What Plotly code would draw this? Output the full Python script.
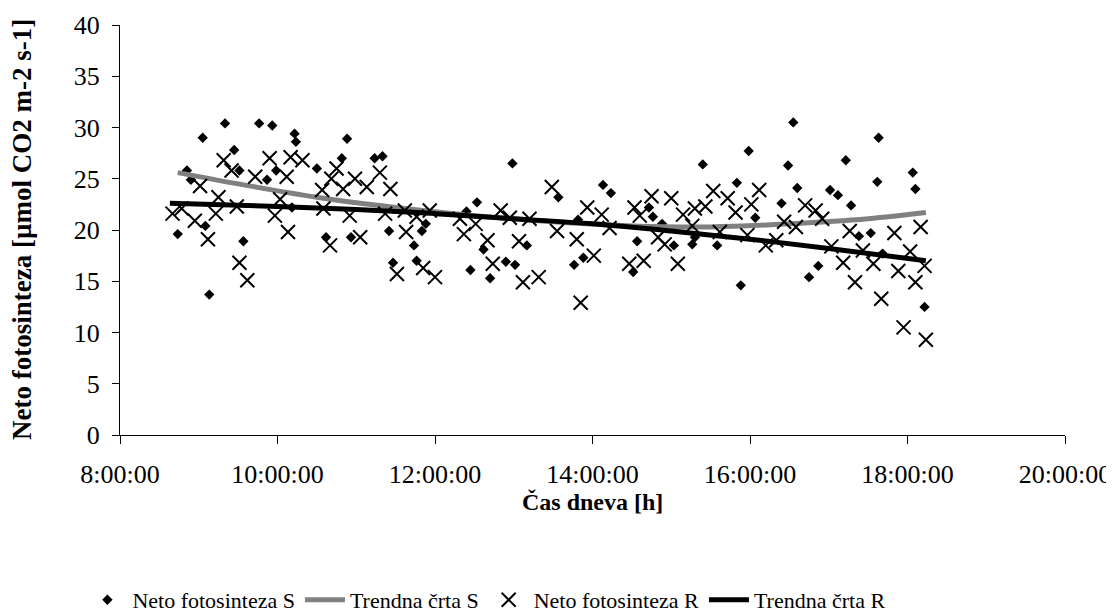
import plotly.graph_objects as go

DAY = "2000-01-01 "

# Neto fotosinteza S (diamonds)
s_time = ["8:44","8:51","8:54","9:03","9:05","9:08","9:20","9:27","9:31","9:34",
          "9:46","9:52","9:56","9:59","10:11","10:13","10:14","10:30","10:37","10:49",
          "10:53","10:56","11:14","11:20","11:25","11:28","11:44","11:46","11:50","11:53",
          "12:24","12:27","12:32","12:37","12:42","12:54","12:59","13:01","13:10","13:34",
          "13:46","13:49","13:53","14:08","14:14","14:31","14:34","14:43","14:46","14:53",
          "15:02","15:16","15:18","15:24","15:35","15:50","15:53","15:59","16:04","16:24",
          "16:29","16:33","16:36","16:45","16:52","17:01","17:07","17:13","17:17","17:23",
          "17:32","17:37","17:38","17:41","18:04","18:06","18:13"]
s_value = [19.6,25.8,24.9,29.0,20.4,13.7,30.4,27.8,25.8,18.9,
           30.4,24.9,30.2,25.8,22.2,29.4,28.6,26.0,19.3,27.0,
           28.9,19.3,27.0,27.2,19.9,16.8,18.5,17.0,19.9,20.6,
           21.8,16.1,22.7,18.1,15.3,16.9,26.5,16.6,18.5,23.2,
           16.6,21.0,17.3,24.4,23.6,15.9,18.9,22.2,21.3,20.6,
           18.5,18.6,19.3,26.4,18.5,24.6,14.6,27.7,21.2,22.6,
           26.3,30.5,24.1,15.4,16.5,23.9,23.4,26.8,22.4,19.4,
           19.7,24.7,29.0,17.7,25.6,24.0,12.5]

# Neto fotosinteza R (crosses)
r_time = ["8:40","8:47","8:57","9:01","9:07","9:13","9:15","9:19","9:25","9:29",
          "9:31","9:37","9:43","9:54","9:58","10:02","10:07","10:08","10:10","10:19",
          "10:34","10:35","10:40","10:41","10:45","10:50","10:55","10:59","11:03","11:08",
          "11:18","11:22","11:26","11:31","11:37","11:38","11:46","11:51","11:56","12:00",
          "12:19","12:22","12:31","12:40","12:44","12:50","12:57","13:04","13:07","13:12",
          "13:19","13:29","13:33","13:48","13:51","13:56","14:01","14:07","14:13","14:28",
          "14:32","14:36","14:39","14:45","14:50","14:55","15:00","15:05","15:09","15:16",
          "15:18","15:26","15:32","15:37","15:43","15:49","15:58","16:01","16:07","16:12",
          "16:20","16:26","16:35","16:42","16:50","16:55","17:02","17:11","17:16","17:20",
          "17:26","17:34","17:40","17:50","17:53","17:57","18:02","18:06","18:10","18:13",
          "18:14"]
r_value = [21.6,22.1,20.9,24.3,19.1,21.6,23.2,26.8,25.8,22.3,
           16.8,15.1,25.2,27.0,21.4,23.0,25.2,19.8,27.1,26.8,
           23.9,22.1,18.5,25.0,26.0,24.0,21.4,25.0,19.3,24.2,
           25.6,21.6,24.0,15.7,21.9,19.8,21.3,16.3,21.9,15.4,
           21.1,19.6,20.6,19.0,16.7,21.9,21.2,18.9,14.9,21.1,
           15.4,24.2,19.9,19.1,12.9,22.2,17.5,21.5,20.2,16.7,
           22.2,21.4,17.0,23.3,19.3,18.6,23.1,16.7,21.5,20.4,
           22.1,22.3,23.8,19.8,23.1,21.7,19.5,22.5,23.9,18.5,
           19.0,20.8,20.3,22.4,21.9,21.1,18.4,16.8,19.9,14.9,
           18.0,16.7,13.3,19.7,16.0,10.5,17.9,14.9,20.3,16.5,
           9.3]

# Trend lines
trend_s_time = ["8:44","9:30","10:30","11:30","12:30","13:30","14:30","15:30","16:30","17:30","18:14"]
trend_s_value = [25.6,24.5,23.2,22.2,21.4,20.8,20.4,20.3,20.6,21.1,21.7]
trend_r_time = ["8:38","10:00","11:00","12:00","13:00","14:00","15:00","16:00","17:00","18:14"]
trend_r_value = [22.6,22.3,22.0,21.6,21.1,20.6,19.9,19.1,18.2,17.0]

x_ticks = ["08:00","10:00","12:00","14:00","16:00","18:00","20:00"]

x_title = "Čas dneva [h]"
y_title = "Neto fotosinteza [µmol CO2 m-2 s-1]"


def dt(lst):
    out = []
    for t in lst:
        h, m = t.split(":")
        out.append(f"{DAY}{int(h):02d}:{m}:00")
    return out


FONT = "Liberation Serif, Times New Roman, serif"

# the page body has an 8px default margin, so the figure is laid out 8px smaller
W, H = 1106, 604

fig = go.Figure()
fig.add_trace(go.Scatter(
    x=dt(s_time), y=s_value, mode="markers", name="Neto fotosinteza S",
    marker=dict(symbol="diamond", size=8, color="black"),
))
fig.add_trace(go.Scatter(
    x=dt(trend_s_time), y=trend_s_value, mode="lines", name="Trendna črta S",
    line=dict(color="#808080", width=5, shape="spline"),
))
fig.add_trace(go.Scatter(
    x=dt(r_time), y=r_value, mode="markers", name="Neto fotosinteza R",
    marker=dict(symbol="x-thin-open", size=14, color="black",
                line=dict(color="black", width=2)),
))
fig.add_trace(go.Scatter(
    x=dt(trend_r_time), y=trend_r_value, mode="lines", name="Trendna črta R",
    line=dict(color="black", width=5, shape="spline"),
))

fig.update_layout(
    width=W, height=H,
    margin=dict(l=112, r=49, t=17, b=177, autoexpand=False),
    paper_bgcolor="white", plot_bgcolor="white",
    font=dict(family=FONT, color="black", size=22),
    showlegend=True,
    legend=dict(orientation="h", xref="container", yref="container",
                x=0.433, xanchor="center", y=1 - 592 / H, yanchor="middle",
                font=dict(family=FONT, size=22, color="black"),
                itemwidth=40, tracegroupgap=0),
    xaxis=dict(
        type="date",
        range=[DAY + "08:00:00", DAY + "20:00:00"],
        tickvals=[DAY + t + ":00" for t in x_ticks],
        tickformat="%-H:%M:%S",
        ticks="outside", ticklen=8, tickcolor="black", tickwidth=1,
        ticklabelstandoff=8,
        showline=True, linecolor="black", linewidth=1,
        showgrid=False, zeroline=False, automargin=False,
        tickfont=dict(family=FONT, size=26, color="black"),
    ),
    yaxis=dict(
        range=[0, 40], dtick=5,
        ticks="outside", ticklen=7, tickcolor="black", tickwidth=1,
        ticklabelstandoff=7,
        showline=True, linecolor="black", linewidth=1,
        showgrid=False, zeroline=False, automargin=False,
        tickfont=dict(family=FONT, size=26, color="black"),
    ),
    annotations=[
        dict(text=f"<b>{x_title}</b>", xref="paper", yref="paper",
             x=0.5, y=-(502 - 435) / 410, xanchor="center", yanchor="middle", showarrow=False,
             font=dict(family=FONT, size=24, color="black")),
        dict(text=f"<b>{y_title}</b>", xref="paper", yref="paper",
             x=-98 / 945, y=0.5, xanchor="center", yanchor="middle", showarrow=False,
             textangle=-90, font=dict(family=FONT, size=27, color="black")),
    ],
)

fig.write_html("out.html")
